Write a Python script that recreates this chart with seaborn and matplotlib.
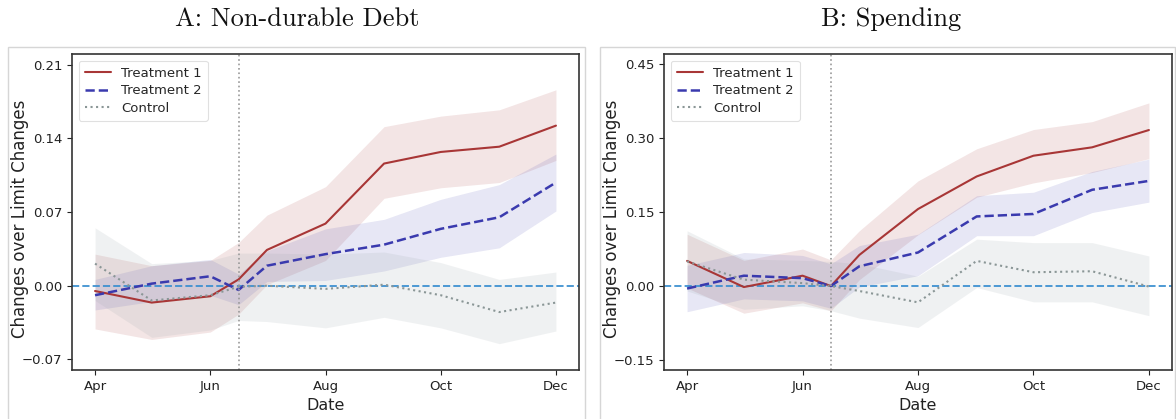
import matplotlib
matplotlib.use("Agg")
import matplotlib.pyplot as plt
import matplotlib.dates as mdates
from matplotlib.patches import Rectangle
import numpy as np
import pandas as pd
import seaborn as sns

# Observation dates (monthly, plus the mid-June event date)
dates = ["2021-04-01", "2021-05-01", "2021-06-01", "2021-06-16", "2021-07-01",
         "2021-08-01", "2021-09-01", "2021-10-01", "2021-11-01", "2021-12-01"]
event_date = "2021-06-16"

# Panel A: non-durable debt
debt_t1 = [-0.005, -0.016, -0.010, 0.006, 0.034, 0.059, 0.116, 0.127, 0.132, 0.152]
debt_t1_lo = [-0.041, -0.051, -0.044, -0.027, 0.001, 0.024, 0.083, 0.093, 0.098, 0.119]
debt_t1_hi = [0.030, 0.019, 0.024, 0.041, 0.067, 0.094, 0.151, 0.161, 0.167, 0.186]
debt_t2 = [-0.009, 0.002, 0.009, -0.004, 0.019, 0.030, 0.039, 0.054, 0.065, 0.098]
debt_t2_lo = [-0.023, -0.015, -0.009, -0.018, 0.004, 0.005, 0.014, 0.027, 0.036, 0.071]
debt_t2_hi = [0.006, 0.019, 0.025, 0.011, 0.033, 0.054, 0.063, 0.082, 0.096, 0.125]
debt_c = [0.021, -0.014, -0.009, -0.001, 0.000, -0.003, 0.001, -0.009, -0.025, -0.016]
debt_c_lo = [-0.014, -0.049, -0.042, -0.033, -0.034, -0.040, -0.030, -0.040, -0.055, -0.043]
debt_c_hi = [0.055, 0.021, 0.024, 0.031, 0.031, 0.030, 0.032, 0.022, 0.006, 0.013]

# Panel B: spending
spend_t1 = [0.051, -0.002, 0.021, 0.000, 0.063, 0.156, 0.222, 0.264, 0.281, 0.316]
spend_t1_lo = [-0.004, -0.055, -0.034, -0.050, 0.013, 0.104, 0.180, 0.209, 0.230, 0.258]
spend_t1_hi = [0.105, 0.052, 0.075, 0.053, 0.112, 0.213, 0.278, 0.317, 0.333, 0.371]
spend_t2 = [-0.005, 0.021, 0.016, 0.000, 0.040, 0.068, 0.141, 0.146, 0.195, 0.213]
spend_t2_lo = [-0.052, -0.026, -0.030, -0.045, -0.002, 0.021, 0.102, 0.102, 0.149, 0.170]
spend_t2_hi = [0.042, 0.068, 0.062, 0.045, 0.082, 0.105, 0.183, 0.190, 0.232, 0.257]
spend_c = [0.050, 0.013, 0.006, 0.000, -0.010, -0.033, 0.051, 0.028, 0.030, -0.001]
spend_c_lo = [-0.010, -0.047, -0.040, -0.050, -0.065, -0.084, -0.003, -0.032, -0.032, -0.060]
spend_c_hi = [0.112, 0.055, 0.052, 0.050, 0.045, 0.020, 0.095, 0.088, 0.088, 0.061]

titles = ["A: Non-durable Debt", "B: Spending"]
series_names = ["Treatment 1", "Treatment 2", "Control"]
debt_ticks = [-0.07, 0.00, 0.07, 0.14, 0.21]
spend_ticks = [-0.15, 0.00, 0.15, 0.30, 0.45]

sns.set_style("ticks")
plt.rcParams["font.family"] = ["DejaVu Sans"]

W, H = 1176, 419
fig = plt.figure(figsize=(W / 100, H / 100), dpi=100)

styles = {
    "Treatment 1": dict(color="#a83636", ls="-", lw=1.5, band="#a83636", alpha=0.13),
    "Treatment 2": dict(color="#3a3aae", ls="--", lw=1.8, band="#3a3aae", alpha=0.12),
    "Control": dict(color="#8a9696", ls=":", lw=1.5, band="#9aa6aa", alpha=0.15),
}


def draw_panel(rect, values, ylim, yticks, box, title, title_x):
    ax = fig.add_axes(rect)
    x = pd.to_datetime(dates)
    # Confidence bands first, then the point estimates
    for name, (mid, lo, hi) in zip(series_names, values):
        st = styles[name]
        ax.fill_between(x, lo, hi, color=st["band"], alpha=st["alpha"], lw=0)
    for name, (mid, lo, hi) in zip(series_names, values):
        st = styles[name]
        df = pd.DataFrame({"date": x, "value": mid})
        sns.lineplot(data=df, x="date", y="value", ax=ax, color=st["color"],
                     linestyle=st["ls"], lw=st["lw"], label=name)
    ax.axhline(0, color="#3a8fd0", ls="--", lw=1.4, alpha=0.9, zorder=1.5)
    ax.axvline(pd.Timestamp(event_date), color="#999999", ls=":", lw=1.2)
    ax.set_ylim(*ylim)
    ax.set_yticks(yticks)
    ax.set_yticklabels([f"{t:.2f}".replace("-", "\u2212") for t in yticks])
    ax.xaxis.set_major_locator(mdates.MonthLocator(bymonth=[4, 6, 8, 10, 12]))
    ax.xaxis.set_major_formatter(mdates.DateFormatter("%b"))
    ax.tick_params(labelsize=9.5, length=3.5, width=0.8, colors="#222222")
    ax.set_xlabel("Date", fontsize=11.5, color="#222222")
    ax.set_ylabel("Changes over Limit Changes", fontsize=12, color="#222222")
    ax.yaxis.set_label_coords(-43 / (rect[2] * W), 0.48)
    for s in ax.spines.values():
        s.set_visible(True)
        s.set_color("#333333")
        s.set_linewidth(1.2)
    leg = ax.legend(loc="upper left", fontsize=9.5, frameon=True, framealpha=0.9,
                    edgecolor="#dddddd", borderpad=0.45, labelspacing=0.35)
    leg.get_frame().set_linewidth(0.8)
    # panel frame and heading
    bx0, bx1, by = box
    fig.patches.append(Rectangle((bx0 / W, -0.05), (bx1 - bx0) / W, 1 - by / H + 0.05,
                                 transform=fig.transFigure, fill=False,
                                 edgecolor="#d6d6d6", lw=1.0))
    fig.text(title_x / W, 1 - 26 / H, title, ha="center", va="baseline",
             fontsize=19, fontfamily="cmr10", color="#111111")
    return ax


draw_panel([72 / W, 49 / H, 507 / W, 316 / H],
           [(debt_t1, debt_t1_lo, debt_t1_hi),
            (debt_t2, debt_t2_lo, debt_t2_hi),
            (debt_c, debt_c_lo, debt_c_hi)],
           (-0.08, 0.22), debt_ticks, (8, 585, 47), titles[0], 297)
draw_panel([664 / W, 49 / H, 508 / W, 316 / H],
           [(spend_t1, spend_t1_lo, spend_t1_hi),
            (spend_t2, spend_t2_lo, spend_t2_hi),
            (spend_c, spend_c_lo, spend_c_hi)],
           (-0.17, 0.47), spend_ticks, (600, 1175, 47), titles[1], 891)

fig.savefig("out.png", dpi=100)
